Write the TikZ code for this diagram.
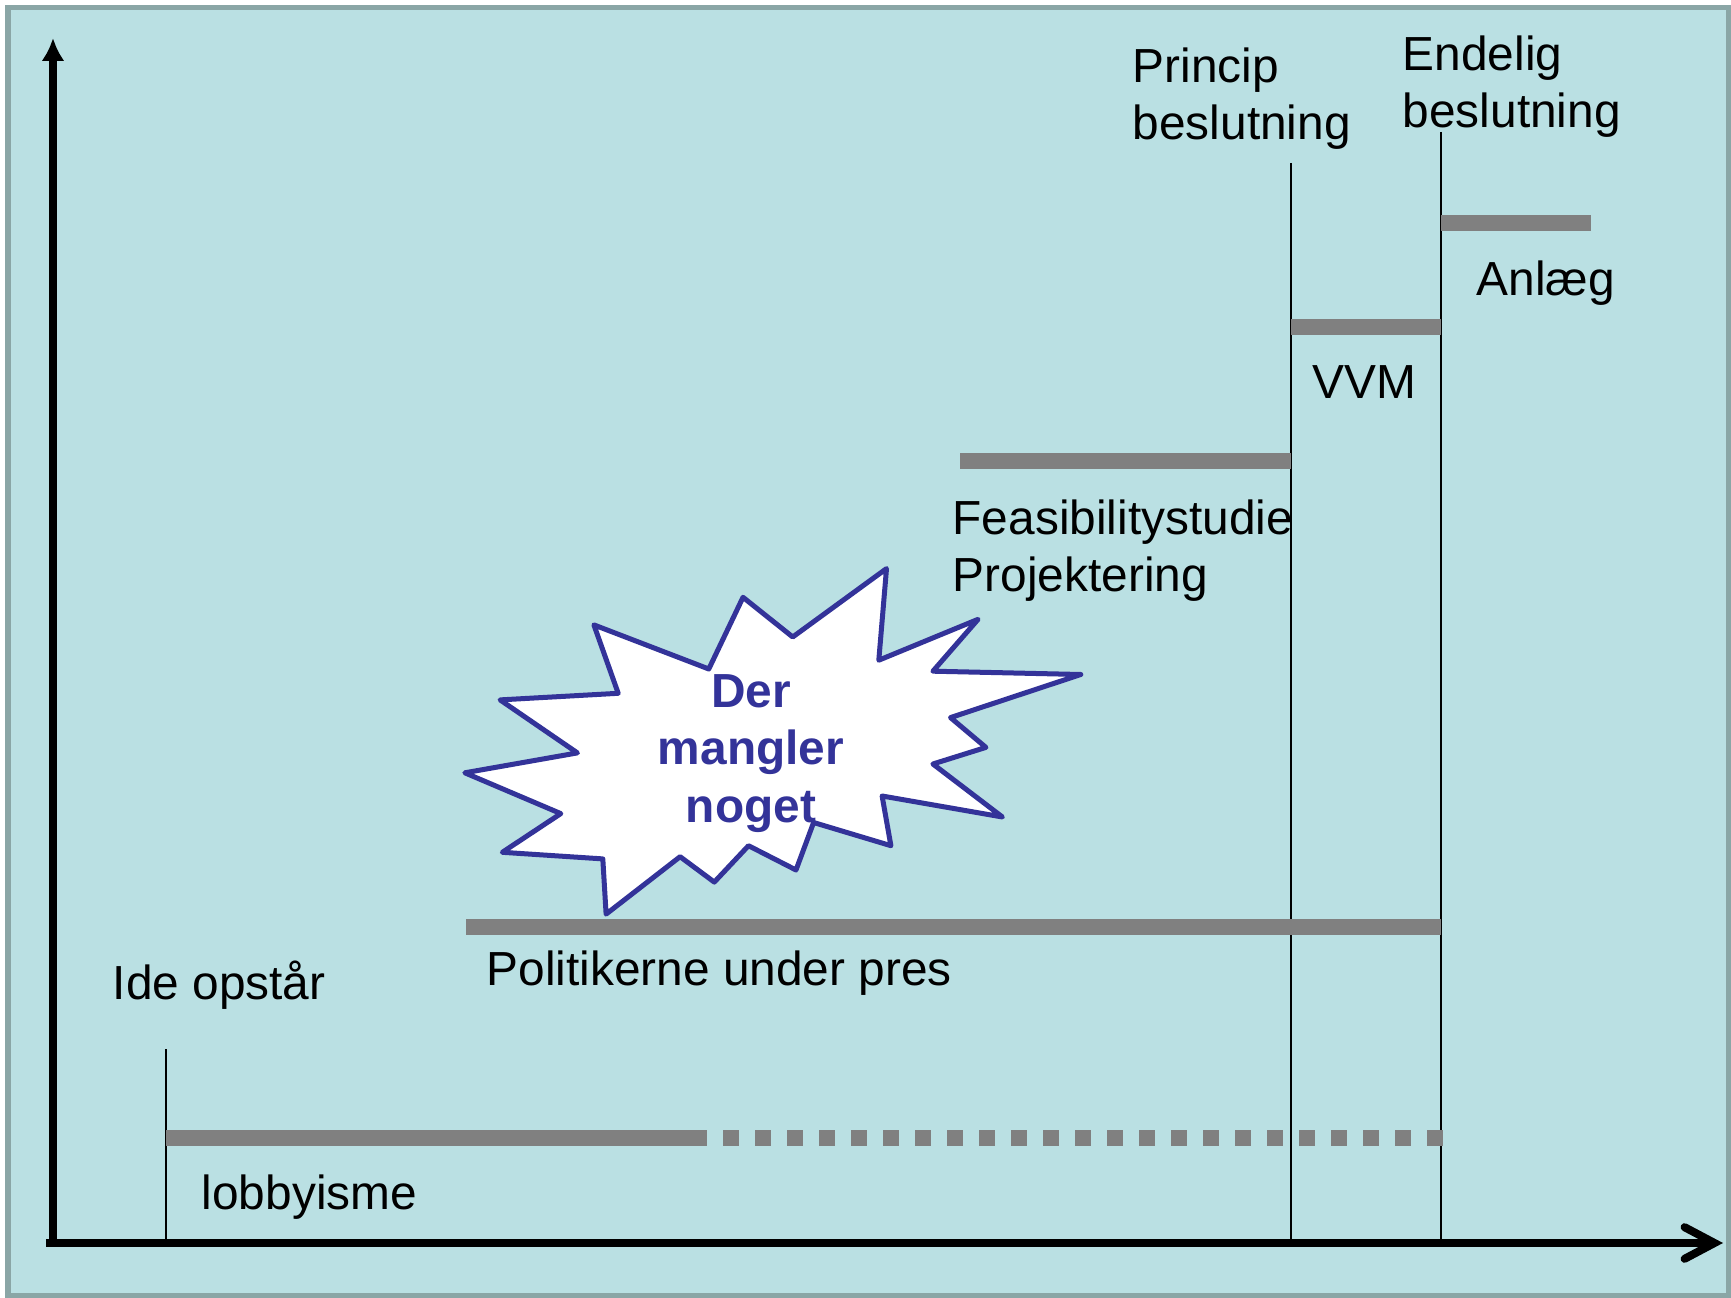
\documentclass[tikz,border=0pt]{standalone}
\usepackage{fontspec}
\setmainfont{Liberation Sans}
\usetikzlibrary{arrows.meta}
\definecolor{bgblue}{RGB}{186,224,227}
\definecolor{framegrey}{RGB}{138,166,166}
\definecolor{bargrey}{RGB}{128,128,128}
\definecolor{burstblue}{RGB}{51,51,153}

\begin{document}
\begin{tikzpicture}[x=0.01cm, y=-0.01cm,
    phasebar/.style={line width=0.16cm, color=bargrey},
    milestone/.style={line width=0.02cm},
    lbl/.style={anchor=base west, inner sep=0pt, align=left,
        font=\fontsize{13.6}{16.3}\selectfont}]
\useasboundingbox (0,0) rectangle (1731,1298);
\fill[white] (0,0) rectangle (1731,1298);
\draw[fill=bgblue, draw=framegrey, line width=0.05cm] (8,8) rectangle (1728,1295);

% axes
\draw[line width=0.08cm, -{Latex[length=6.5pt, width=6.5pt]}] (53,1244) -- (53,38);
\draw[line width=0.08cm, -{Straight Barb[length=8.5pt, width=9pt, line cap=round]}] (46,1243) -- (1723,1243);

% milestones
\draw[milestone] (166,1049) -- (166,1242);
\draw[milestone] (1291,163) -- (1291,1242);
\draw[milestone] (1441,132) -- (1441,1242);

% phases
\draw[phasebar] (1441,223) -- (1591,223);
\draw[phasebar] (1291,327) -- (1441,327);
\draw[phasebar] (960,461) -- (1291,461);
\draw[phasebar] (466,927) -- (1441,927);
\draw[phasebar] (166,1138) -- (691,1138);
\draw[phasebar, dash pattern=on 0.16cm off 0.16cm] (691,1138) -- (1443,1138);

% labels (base = last line)
\node[lbl] (princip) at (1132,140) {Princip\\beslutning};
\node[lbl] (endelig) at (1402,128) {Endelig\\beslutning};
\node[lbl] (anlaeg) at (1476,296) {Anlæg};
\node[lbl] (vvm) at (1312,399) {VVM};
\node[lbl] (feas) at (952,592) {Feasibilitystudie\\Projektering};
\node[lbl] (pres) at (486,985) {Politikerne under pres};
\node[lbl] (ide) at (112,999) {Ide opstår};
\node[lbl] (lobby) at (201,1209) {lobbyisme};

% starburst
\draw[burstblue, fill=white, line width=0.05cm, line join=round]
    (886.5,568.6) -- (878.8,660.2) -- (978.1,619.3) -- (932.9,671.2)
 -- (1080.8,674.5) -- (950.5,717.6) -- (985.9,747.4) -- (932.9,764.0)
 -- (1002.4,817.0) -- (882.1,796.0) -- (890.9,845.7) -- (813.6,822.5)
 -- (796.0,870.0) -- (748.5,845.7) -- (714.3,882.1) -- (680.1,856.7)
 -- (606.1,914.1) -- (602.8,858.9) -- (502.3,852.3) -- (560.8,813.6)
 -- (464.8,772.8) -- (577.4,752.9) -- (500.1,699.9) -- (618.2,693.3)
 -- (593.9,624.9) -- (708.8,669.0) -- (743.0,597.3) -- (792.7,637.0) -- cycle;
\node[lbl, anchor=base, align=center, text=burstblue,
    font=\fontsize{13.6}{16.3}\selectfont\bfseries] (mangler) at (751,822) {Der\\mangler\\noget};
\end{tikzpicture}
\end{document}
